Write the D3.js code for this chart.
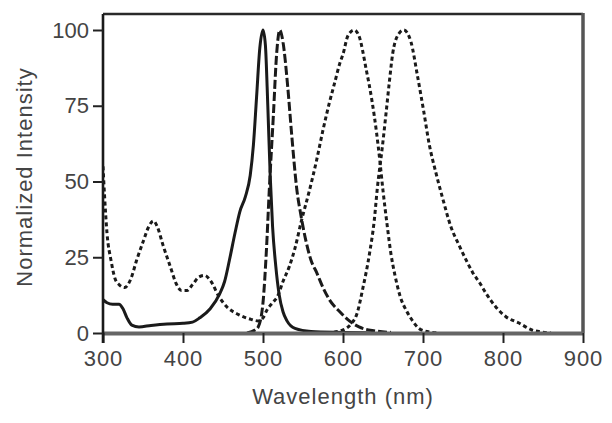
<!DOCTYPE html>
<html>
<head>
<meta charset="utf-8">
<script src="https://cdn.jsdelivr.net/npm/d3@7"></script>
<style>
  html, body { margin: 0; padding: 0; background: #fff; }
  svg { display: block; }
  text { font-family: "Liberation Sans", Arial, sans-serif; fill: #444; }
</style>
</head>
<body>
<svg id="chart" width="612" height="423"></svg>
<script>
// ---- data ----
const xTicks = [300, 400, 500, 600, 700, 800, 900];
const yTicks = [0, 25, 50, 75, 100];
const xDomain = [300, 900];
const yDomain = [0, 100];
const yFrameTop = 105.3;

// solid curve (peak ~500 nm)
const solidX = [300, 305, 312, 320, 325, 330, 336, 345, 360, 380, 400, 412, 421, 434, 446, 452, 458, 465, 471, 478, 484, 488, 492, 496, 500, 503, 506, 509, 512, 516, 520, 525, 530, 540, 560, 600, 640];
const solidY = [11, 10, 9.5, 9.5, 8, 5, 2.6, 2, 2.5, 3, 3.2, 3.6, 5, 8, 13, 17, 24, 33, 40, 45, 52, 62, 78, 94, 100, 95, 75, 52, 35, 22, 13, 7, 4, 1.5, 0.5, 0.2, 0];

// long-dashed curve (peak ~521 nm)
const dashX = [480, 490, 494, 500, 504, 508, 513, 517, 521, 525, 531, 536, 542, 548, 554, 560, 567, 575, 583, 596, 608, 620, 640, 660];
const dashY = [0, 1, 2, 10, 26, 48, 72, 92, 100, 96, 81, 65, 48, 38, 30, 24, 20, 15, 11, 7, 4, 2, 0.7, 0.2];

// dotted curve (bands at ~363, ~427, peak ~614 nm)
const dotAX = [300, 302, 305, 310, 315, 320, 327, 335, 342, 350, 357, 363, 368, 375, 384, 392, 398, 405, 412, 420, 427, 435, 445, 455, 470, 485, 494, 500, 505, 512, 518, 525, 533, 540, 548, 558, 567, 575, 583, 590, 596, 600, 606, 614, 620, 629, 636, 642, 646, 650, 655, 660, 665, 671, 680, 687, 695, 705, 720];
const dotAY = [55, 45, 33, 24, 18, 16, 15, 18, 24, 30, 35, 37, 35, 29, 22, 16, 14, 14, 16, 18.5, 19, 17, 12, 8.6, 6, 4.5, 4, 5, 7.6, 10, 12, 17, 22, 28, 37, 47, 57, 67, 76, 83, 89, 92, 98, 100, 98, 87, 77, 66, 57, 47, 36, 26, 19, 12.5, 7, 4, 1.5, 0.5, 0];

// dotted curve (peak ~676 nm)
const dotBX = [580, 600, 610, 617, 625, 633, 639, 643, 649, 654, 658, 662, 668, 676, 685, 693, 701, 708, 716, 724, 735, 745, 755, 762, 771, 779, 791, 804, 820, 836, 849, 860];
const dotBY = [0, 1, 3, 6, 15, 26, 37, 48, 61, 73, 83, 92, 98, 100, 96, 85, 73, 62, 53, 45, 35, 29, 23.5, 20, 16.5, 13, 8.6, 5.3, 3.3, 1, 0.3, 0];

// ---- drawing ----
const svg = d3.select("#chart");
const x = d3.scaleLinear().domain(xDomain).range([103, 583]);
const y = d3.scaleLinear().domain(yDomain).range([333, 30]);

const line = d3.line()
  .x(d => x(d[0]))
  .y(d => y(d[1]))
  .curve(d3.curveMonotoneX);

const plot = svg.append("g");
const clipId = "clip";
svg.append("clipPath").attr("id", clipId)
  .append("rect")
  .attr("x", x(xDomain[0])).attr("y", y(yFrameTop))
  .attr("width", x(xDomain[1]) - x(xDomain[0]))
  .attr("height", y(0) - y(yFrameTop) + 2);

const series = [
  { xs: dotAX, ys: dotAY, dash: "4,3" },
  { xs: dotBX, ys: dotBY, dash: "4,3" },
  { xs: dashX, ys: dashY, dash: "9,3" },
  { xs: solidX, ys: solidY, dash: null }
];

series.forEach(s => {
  const pts = s.xs.map((v, i) => [v, s.ys[i]]);
  const p = plot.append("path")
    .datum(pts)
    .attr("clip-path", `url(#${clipId})`)
    .attr("fill", "none")
    .attr("stroke", "#1a1a1a")
    .attr("stroke-width", 3)
    .attr("stroke-linejoin", "round")
    .attr("d", line);
  if (s.dash) p.attr("stroke-dasharray", s.dash);
});

// frame: top and right
svg.append("line")
  .attr("x1", x(xDomain[0])).attr("x2", x(xDomain[1]))
  .attr("y1", y(yFrameTop)).attr("y2", y(yFrameTop))
  .attr("stroke", "#2a2a2a").attr("stroke-width", 2.5);
svg.append("line")
  .attr("x1", x(xDomain[1])).attr("x2", x(xDomain[1]))
  .attr("y1", y(yFrameTop) - 1).attr("y2", y(0))
  .attr("stroke", "#555").attr("stroke-width", 3.5);

// axes
const xAxis = d3.axisBottom(x).tickValues(xTicks).tickSize(10).tickPadding(6).tickSizeOuter(0);
const yAxis = d3.axisLeft(y).tickValues(yTicks).tickSize(10).tickPadding(4).tickSizeOuter(0);

const gx = svg.append("g").attr("transform", `translate(0,${y(0)})`).call(xAxis);
gx.select(".domain").attr("stroke", "#666").attr("stroke-width", 4);
gx.selectAll(".tick line").attr("stroke", "#222").attr("stroke-width", 2);
gx.selectAll(".tick text")
  .style("font-size", "22px").style("letter-spacing", "1px")
  .attr("fill", "#444").attr("dy", "0.75em");

const gy = svg.append("g").attr("transform", `translate(${x(xDomain[0])},0)`).call(yAxis);
gy.select(".domain").attr("stroke", "#1a1a1a").attr("stroke-width", 2.6)
  .attr("d", `M0,${y(yFrameTop)}V${y(0) + 10}`);
gy.selectAll(".tick line").attr("stroke", "#222").attr("stroke-width", 2);
gy.selectAll(".tick text")
  .style("font-size", "22px").attr("fill", "#444");

// axis titles
svg.append("text")
  .attr("x", (x(xDomain[0]) + x(xDomain[1])) / 2 + 0)
  .attr("y", 404)
  .attr("text-anchor", "middle")
  .style("font-size", "22px").style("letter-spacing", "1px")
  .text("Wavelength (nm)");

svg.append("text")
  .attr("transform", `translate(32,${177}) rotate(-90)`)
  .attr("text-anchor", "middle")
  .style("font-size", "22px").style("letter-spacing", "1px")
  .text("Normalized  Intensity");
</script>
</body>
</html>
